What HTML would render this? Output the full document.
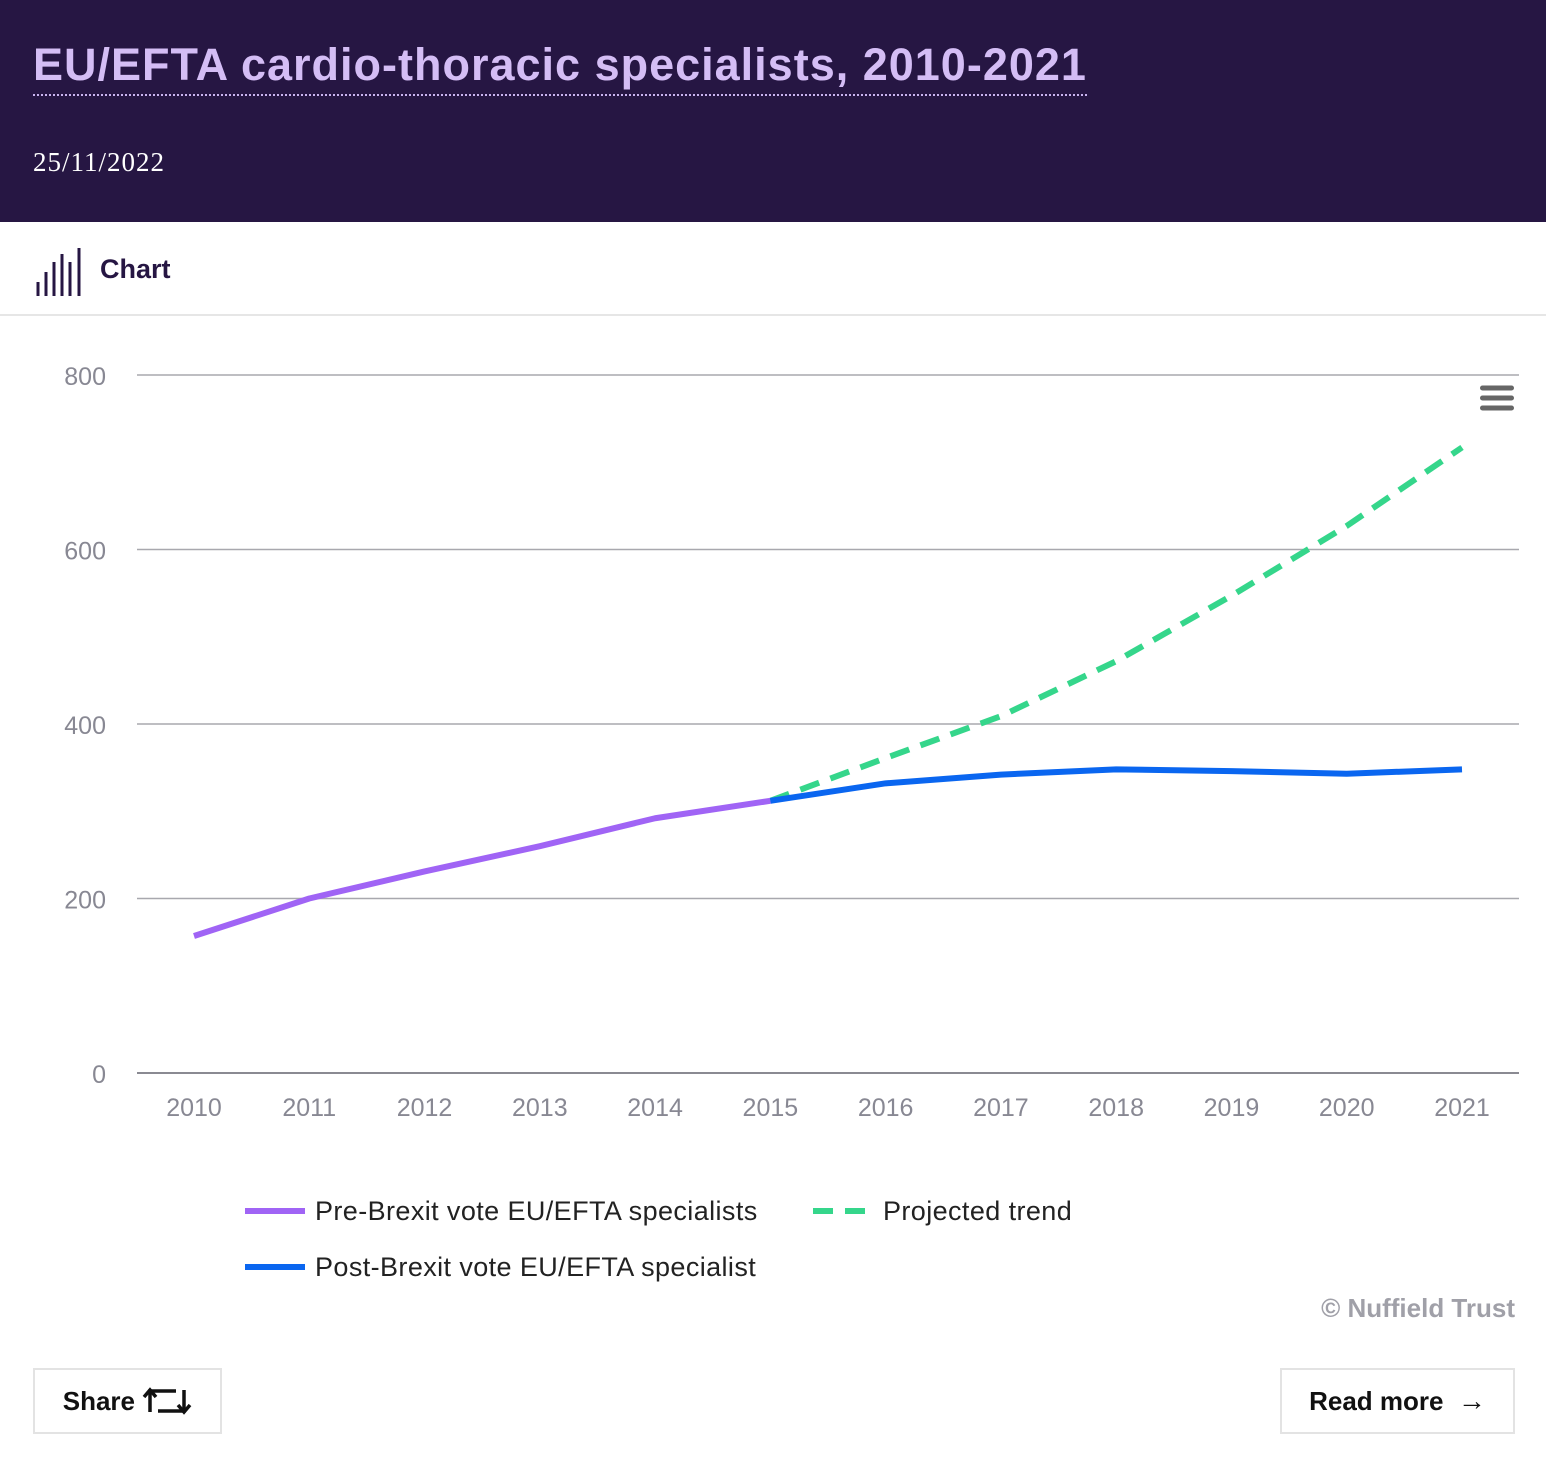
<!DOCTYPE html>
<html><head><meta charset="utf-8">
<style>
body{margin:0;width:1546px;height:1466px;background:#fff;font-family:"Liberation Sans",sans-serif;position:relative;overflow:hidden}
.hdr{position:absolute;left:0;top:0;width:1546px;height:222px;background:#261643}
.title{position:absolute;left:33px;top:38px;font-size:45px;font-weight:bold;color:#d4bdf5;border-bottom:2px dotted #c9b4ef;padding-bottom:2px;line-height:54px;letter-spacing:1px}
.date{position:absolute;left:33px;top:147px;font-family:"Liberation Serif",serif;font-size:27px;color:#fff;letter-spacing:1px}
.tabbar{position:absolute;left:0;top:222px;width:1546px;height:92px;border-bottom:2px solid #e6e6e6}
.btn{position:absolute;top:1368px;height:66px;border:2px solid #e3e3e3;box-sizing:border-box;font-weight:bold;font-size:26px;color:#111;display:flex;align-items:center;justify-content:center}
</style></head><body>
<div class="hdr">
<div class="title">EU/EFTA cardio-thoracic specialists, 2010-2021</div>
<div class="date">25/11/2022</div>
</div>
<div class="tabbar">
<svg style="position:absolute;left:36px;top:26px" width="46" height="48">
<g stroke="#261643" stroke-width="3"><line x1="2" y1="48" x2="2" y2="34"/><line x1="10" y1="48" x2="10" y2="24"/><line x1="18" y1="48" x2="18" y2="14"/><line x1="26" y1="48" x2="26" y2="6"/><line x1="34" y1="48" x2="34" y2="14"/><line x1="43" y1="48" x2="43" y2="0"/></g></svg>
<div style="position:absolute;left:100px;top:32px;font-size:27px;font-weight:bold;color:#261643">Chart</div>
</div>
<svg id="chart" width="1546" height="1466" style="position:absolute;left:0;top:0"></svg>
<div class="btn" style="left:33px;width:189px">Share&nbsp;<svg width="50" height="30" viewBox="0 0 50 30"><g fill="none" stroke="#111" stroke-width="3.5"><path d="M8 26V5h26"/><path d="M2 11l6-7 6 7"/><path d="M42 4v21H16"/><path d="M36 19l6 7 6-7"/></g></svg></div>
<div class="btn" style="left:1280px;width:235px">Read more&nbsp;&nbsp;<span style="font-size:28px">→</span></div>
<script>
const years=[2010,2011,2012,2013,2014,2015,2016,2017,2018,2019,2020,2021];
const yTicks=[0,200,400,600,800];
const preVals=[157,200,231,260,292,312];
const postVals=[312,332,342,348,346,343,348];
const projVals=[312,361,409,472,547,627,717];
const NS="http://www.w3.org/2000/svg";
const svg=document.getElementById('chart');
const x=i=>194+i*(1462-194)/11;
const y=v=>1073-v*(1073-375)/800;
function el(t,a,p){const e=document.createElementNS(NS,t);for(const k in a)e.setAttribute(k,a[k]);(p||svg).appendChild(e);return e;}
yTicks.forEach(t=>{
 const l=el('line',{x1:137,x2:1519,y1:y(t),y2:y(t),stroke:t?'#a8a8ae':'#8a8a92','stroke-width':t?1.5:2});
 
 
 const tx=el('text',{x:106,y:y(t)+10,'text-anchor':'end','font-size':25,fill:'#888893','font-family':'Liberation Sans'});
 tx.textContent=t;
 
 
});
years.forEach((yr,i)=>{
 const tx=el('text',{x:x(i),y:1116,'text-anchor':'middle','font-size':25,fill:'#888893','font-family':'Liberation Sans'});
 tx.textContent=yr;
 
 
});
function line(vals,off,color,dash,name){
 const d=vals.map((v,i)=>(i?'L':'M')+x(i+off)+' '+y(v)).join(' ');
 const p=el('path',{d,fill:'none',stroke:color,'stroke-width':6,'stroke-linejoin':'round'});
 if(dash)p.setAttribute('stroke-dasharray',dash);
 
 
}
line(projVals,5,'#35d68b','20 12','projected-trend-line');
line(preVals,0,'#a064f5',null,'pre-brexit-line');
line(postVals,5,'#0a66f0',null,'post-brexit-line');
const leg=[[245,1211,'#a064f5',null,'Pre-Brexit vote EU/EFTA specialists'],[813,1211,'#35d68b','20 12','Projected trend'],[245,1267,'#0a66f0',null,'Post-Brexit vote EU/EFTA specialist']];
leg.forEach(([lx,ly,c,da,t],k)=>{
 const g=el('g',{});
 
 
 const l=el('line',{x1:lx,x2:lx+60,y1:ly,y2:ly,stroke:c,'stroke-width':6},g);if(da)l.setAttribute('stroke-dasharray',da);
 const tx=el('text',{x:lx+70,y:ly+9,'font-size':27,fill:'#222','font-family':'Liberation Sans','letter-spacing':0.4},g);tx.textContent=t;
});
const cr=el('text',{x:1515,y:1317,'text-anchor':'end','font-size':26,'font-weight':'bold',fill:'#a0a0a8','font-family':'Liberation Sans'});
cr.textContent='© Nuffield Trust';


const menu=el('g',{});


[388,398,408].forEach(yy=>el('rect',{x:1480,y:yy-2.5,width:34,height:5,rx:2.5,fill:'#666'},menu));
</script>
</body></html>
